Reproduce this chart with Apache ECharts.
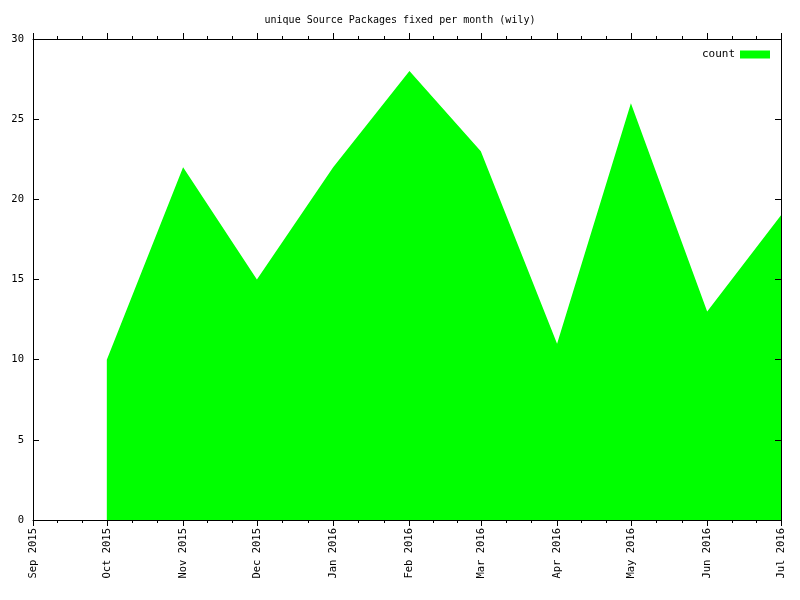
<!DOCTYPE html>
<html>
<head>
<meta charset="utf-8">
<script src="https://cdn.jsdelivr.net/npm/echarts@6/dist/echarts.min.js"></script>
<style>html,body{margin:0;padding:0;background:#fff}#c{width:800px;height:600px}</style>
</head>
<body>
<div id="c"></div>
<script>
var months = ['2015-10-01','2015-11-01','2015-12-01','2016-01-01','2016-02-01','2016-03-01','2016-04-01','2016-05-01','2016-06-01','2016-07-01'];
var counts = [10, 22, 15, 22, 28, 23, 11, 26, 13, 19];
var yTicks = [0, 5, 10, 15, 20, 25, 30];
var monthNames = ['Jan','Feb','Mar','Apr','May','Jun','Jul','Aug','Sep','Oct','Nov','Dec'];

function ts(s){ var p = s.split('-'); return Date.UTC(+p[0], +p[1]-1, +p[2]); }
var data = months.map(function(m, i){ return [ts(m), counts[i]]; });
var xMin = Date.UTC(2015, 8, 1), xMax = Date.UTC(2016, 6, 1);
var font = 'DejaVu Sans Mono';

function fmt(v){ var d = new Date(v); return monthNames[d.getUTCMonth()] + ' ' + d.getUTCFullYear(); }

var chart = echarts.init(document.getElementById('c'), null, {renderer: 'canvas'});
var xCommon = {
  type: 'time', min: xMin, max: xMax, splitNumber: 10,
  minInterval: 28 * 86400000,
  z: 5,
  axisLine: {onZero: false, lineStyle: {color: '#000', width: 1}},
  axisTick: {show: true, length: 6, lineStyle: {color: '#000'}},
  minorTick: {show: true, splitNumber: 3, length: 3, lineStyle: {color: '#000'}},
  splitLine: {show: false}
};
var yCommon = {
  type: 'value', min: yTicks[0], max: yTicks[yTicks.length - 1], interval: 5,
  z: 5,
  axisLine: {show: true, onZero: false, lineStyle: {color: '#000'}},
  axisTick: {show: true, inside: true, length: 6, lineStyle: {color: '#000'}},
  splitLine: {show: false}
};
chart.setOption({
  useUTC: true,
  animation: false,
  backgroundColor: '#fff',
  title: {
    text: 'unique Source Packages fixed per month (wily)',
    left: 'center', top: 10,
    textStyle: {fontFamily: font, fontSize: 10, fontWeight: 'normal', color: '#000'}
  },
  legend: {
    show: true, right: 25, top: 44, align: 'right',
    itemWidth: 30, itemHeight: 8, itemGap: 8,
    icon: 'rect',
    textStyle: {fontFamily: font, fontSize: 11, color: '#000'},
    data: [{name: 'count', icon: 'rect'}]
  },
  grid: {left: 33, right: 19, top: 39, bottom: 80, containLabel: false},
  xAxis: [
    Object.assign({}, xCommon, {
      position: 'bottom',
      axisLabel: {rotate: 90, formatter: fmt, fontFamily: font, fontSize: 10.5, color: '#000', margin: 8, showMinLabel: true, showMaxLabel: true}
    }),
    Object.assign({}, xCommon, {
      position: 'top',
      axisLabel: {show: false}
    })
  ],
  yAxis: [
    Object.assign({}, yCommon, {
      position: 'left',
      axisLabel: {fontFamily: font, fontSize: 10.5, color: '#000', margin: 9}
    }),
    Object.assign({}, yCommon, {
      position: 'right',
      axisLabel: {show: false}
    })
  ],
  series: [{
    name: 'count', type: 'line', data: data,
    xAxisIndex: 0, yAxisIndex: 0,
    showSymbol: false, symbol: 'none',
    itemStyle: {color: '#00ff00'},
    lineStyle: {width: 0, color: '#00ff00'},
    areaStyle: {color: '#00ff00', opacity: 1},
    z: 1
  }, {
    name: 'mirror', type: 'line', data: data,
    xAxisIndex: 1, yAxisIndex: 1,
    showSymbol: false, symbol: 'none', silent: true,
    lineStyle: {width: 0, opacity: 0},
    z: 0
  }]
});
</script>
</body>
</html>
